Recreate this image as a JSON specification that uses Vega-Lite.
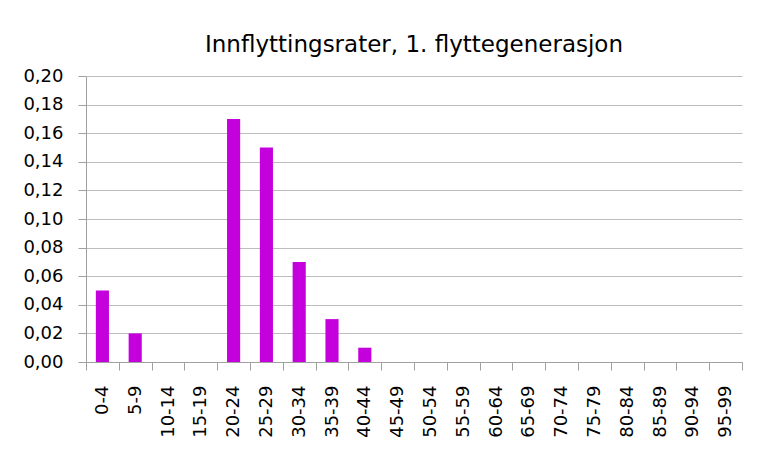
{
  "$schema": "https://vega.github.io/schema/vega-lite/v6.json",
  "width": 656,
  "height": 286,
  "autosize": {"type": "none"},
  "padding": {"left": 86, "top": 76, "right": 39, "bottom": 105},
  "background": "white",
  "config": {
    "locale": {"number": {"decimal": ",", "thousands": " ", "grouping": [3], "currency": ["", " kr"]}},
    "view": {"stroke": null},
    "font": "DejaVu Sans"
  },
  "title": {
    "text": "Innflyttingsrater, 1. flyttegenerasjon",
    "font": "DejaVu Sans",
    "fontSize": 23,
    "fontWeight": "normal",
    "color": "#000000",
    "offset": 10,
    "anchor": "middle"
  },
  "data": {
    "values": [
      {"alder": "0-4", "rate": 0.05},
      {"alder": "5-9", "rate": 0.02},
      {"alder": "10-14", "rate": 0},
      {"alder": "15-19", "rate": 0},
      {"alder": "20-24", "rate": 0.17},
      {"alder": "25-29", "rate": 0.15},
      {"alder": "30-34", "rate": 0.07},
      {"alder": "35-39", "rate": 0.03},
      {"alder": "40-44", "rate": 0.01},
      {"alder": "45-49", "rate": 0},
      {"alder": "50-54", "rate": 0},
      {"alder": "55-59", "rate": 0},
      {"alder": "60-64", "rate": 0},
      {"alder": "65-69", "rate": 0},
      {"alder": "70-74", "rate": 0},
      {"alder": "75-79", "rate": 0},
      {"alder": "80-84", "rate": 0},
      {"alder": "85-89", "rate": 0},
      {"alder": "90-94", "rate": 0},
      {"alder": "95-99", "rate": 0}
    ]
  },
  "mark": {"type": "bar", "color": "#c400dc", "width": {"band": 0.4}},
  "encoding": {
    "x": {
      "field": "alder",
      "type": "nominal",
      "sort": null,
      "scale": {"paddingInner": 0, "paddingOuter": 0},
      "axis": {
        "title": null,
        "labelAngle": -90,
        "labelFont": "DejaVu Sans",
        "labelFontSize": 18,
        "labelColor": "#000000",
        "labelPadding": 15,
        "tickBand": "extent",
        "tickSize": 8,
        "tickColor": "#a0a0a0",
        "domainColor": "#a0a0a0",
        "grid": false
      }
    },
    "y": {
      "field": "rate",
      "type": "quantitative",
      "scale": {"domain": [0, 0.2], "nice": false},
      "axis": {
        "title": null,
        "values": [0, 0.02, 0.04, 0.06, 0.08, 0.1, 0.12, 0.14, 0.16, 0.18, 0.2],
        "format": ".2f",
        "labelFont": "DejaVu Sans",
        "labelFontSize": 18,
        "labelColor": "#000000",
        "labelPadding": 15,
        "tickSize": 8,
        "tickColor": "#a0a0a0",
        "domainColor": "#a0a0a0",
        "grid": true,
        "gridColor": "#bdbdbd",
        "gridWidth": 1
      }
    }
  }
}
